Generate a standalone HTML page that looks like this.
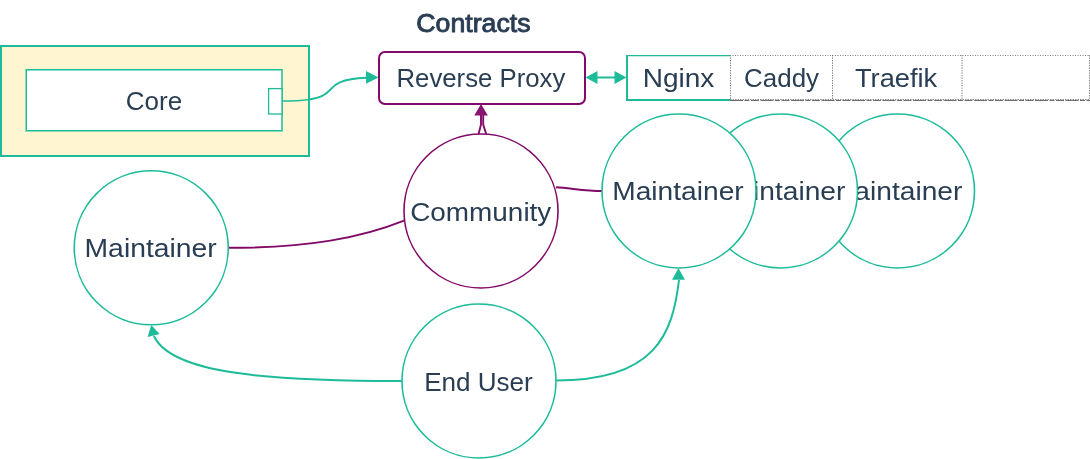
<!DOCTYPE html>
<html><head><meta charset="utf-8"><style>
html,body{margin:0;padding:0;background:#fff;width:1090px;height:459px;overflow:hidden}
svg{display:block;will-change:transform}
</style></head><body>
<svg width="1090" height="459" viewBox="0 0 1090 459">
<rect x="0" y="0" width="1090" height="459" fill="#fff"/>
<!-- Core container -->
<rect x="1" y="46" width="308" height="110" fill="#fff5d0" stroke="#1dbb9a" stroke-width="2"/>
<rect x="26.25" y="69.75" width="255.75" height="61" fill="#fff" stroke="#1dbb9a" stroke-width="1.5"/>
<rect x="268.6" y="88.6" width="13.4" height="25.4" fill="#fff" stroke="#1dbb9a" stroke-width="1.3"/>
<!-- edge core -> RP -->
<defs><clipPath id="cin"><rect x="270" y="60" width="39" height="60"/></clipPath><clipPath id="cout"><rect x="309" y="60" width="70" height="60"/></clipPath></defs>
<path d="M282,101 C353,101 309.6,80.6 366.5,77.8" fill="none" stroke="#1dbb9a" stroke-width="1.4" clip-path="url(#cin)"/>
<path d="M282,101 C353,101 309.6,80.6 366.5,77.8" fill="none" stroke="#1dbb9a" stroke-width="2" clip-path="url(#cout)"/>
<polygon points="366,71 378.5,77.4 366,83.8" fill="#1dbb9a"/>
<!-- Reverse proxy -->
<rect x="379" y="52" width="206" height="52" rx="6" ry="6" fill="#fff" stroke="#820a69" stroke-width="2"/>
<!-- RP <-> Nginx -->
<line x1="596" y1="77.5" x2="615" y2="77.5" stroke="#1dbb9a" stroke-width="2"/>
<polygon points="585.5,77.5 597.5,71 597.5,84" fill="#1dbb9a"/>
<polygon points="626.5,77.5 614.5,71 614.5,84" fill="#1dbb9a"/>
<!-- cells -->
<g fill="none">
<line x1="730" y1="55.5" x2="1090" y2="55.5" stroke="#808080" stroke-width="1" stroke-dasharray="1 1.5"/>
<line x1="730" y1="99.5" x2="1090" y2="99.5" stroke="#8c8c8c" stroke-width="1" stroke-dasharray="1.5 1"/>
<line x1="730" y1="100.5" x2="1090" y2="100.5" stroke="#6e6e6e" stroke-width="1" stroke-dasharray="13 1.5 5 1.5 8 1.5"/>
<line x1="730.5" y1="55" x2="730.5" y2="100" stroke="#7c7c7c" stroke-width="1" stroke-dasharray="1.3 1.2"/>
<line x1="832.5" y1="55" x2="832.5" y2="100" stroke="#7c7c7c" stroke-width="1" stroke-dasharray="1.3 1.2"/>
<line x1="962" y1="55" x2="962" y2="100" stroke="#7c7c7c" stroke-width="1" stroke-dasharray="1.3 1.2"/>
<line x1="1089.5" y1="55" x2="1089.5" y2="100" stroke="#7c7c7c" stroke-width="1" stroke-dasharray="1.3 1.2"/>
<path d="M627,55 V100 H730" stroke="#1dbb9a" stroke-width="2"/>
<line x1="626" y1="55.65" x2="730" y2="55.65" stroke="#1dbb9a" stroke-width="1.3"/>
</g>
<!-- Community -> RP -->
<path d="M478.6,134 L481,124.5 L481,114" fill="none" stroke="#820a69" stroke-width="1.9"/>
<path d="M486.2,134 L483.2,124.5 L483.2,114" fill="none" stroke="#820a69" stroke-width="1.9"/>
<polygon points="481,104 474.3,115.5 487.9,115.5" fill="#8a1570"/>
<!-- edges purple -->
<path d="M229,247.8 C309,247.8 361.3,237.7 404,220.6" fill="none" stroke="#820a69" stroke-width="2"/>
<path d="M556,187.3 C570,188 585,191 602,191" fill="none" stroke="#820a69" stroke-width="2"/>
<!-- edges teal from End User -->
<path d="M402,381 C272,381 171.2,374.3 154,336" fill="none" stroke="#1dbb9a" stroke-width="2"/>
<polygon points="151.3,325 147.6,337 159.6,334" fill="#1dbb9a"/>
<path d="M556,380.5 C656,380.5 672.6,333.6 679,280" fill="none" stroke="#1dbb9a" stroke-width="2"/>
<polygon points="678.5,268.3 672,279.8 685,279.8" fill="#1dbb9a"/>
<!-- circles -->
<circle cx="481" cy="211" r="77" fill="#fff" stroke="#820a69" stroke-width="1.6"/>
<circle cx="151.25" cy="247.8" r="77" fill="#fff" stroke="#1dbb9a" stroke-width="1.6"/>
<circle cx="897.5" cy="191" r="77" fill="#fff" stroke="#1dbb9a" stroke-width="1.6"/>
<g font-family="Liberation Sans" font-size="26" fill="#293d53"><text transform="translate(830.83,199.5) scale(1.084,1)" x="0" y="0" >Maintainer</text></g>
<circle cx="780.5" cy="191" r="77" fill="#fff" stroke="#1dbb9a" stroke-width="1.6"/>
<g font-family="Liberation Sans" font-size="26" fill="#293d53"><text transform="translate(713.83,199.5) scale(1.084,1)" x="0" y="0" >Maintainer</text></g>
<circle cx="679" cy="191" r="77" fill="#fff" stroke="#1dbb9a" stroke-width="1.6"/>
<circle cx="479" cy="381" r="77" fill="#fff" stroke="#1dbb9a" stroke-width="1.6"/>
<g font-family="Liberation Sans" font-size="26" fill="#293d53">
<text transform="translate(416.27,31.9) scale(1.0282,1)" x="0" y="0" stroke="#293d53" stroke-width="0.9">Contracts</text>
<text transform="translate(396.52,87.2) scale(0.9905,1)" x="0" y="0" >Reverse Proxy</text>
<text transform="translate(125.8,109.6) scale(1.0,1)" x="0" y="0" >Core</text>
<text transform="translate(642.64,86.9) scale(1.0797,1)" x="0" y="0" >Nginx</text>
<text transform="translate(744.1,86.9) scale(0.9973,1)" x="0" y="0" >Caddy</text>
<text transform="translate(854.95,86.9) scale(1.0481,1)" x="0" y="0" >Traefik</text>
<text transform="translate(84.52,256.6) scale(1.0899,1)" x="0" y="0" >Maintainer</text>
<text transform="translate(612.23,199.5) scale(1.0832,1)" x="0" y="0" >Maintainer</text>
<text transform="translate(410.13,220.9) scale(1.0746,1)" x="0" y="0" >Community</text>
<text transform="translate(424.19,390.9) scale(1.0028,1)" x="0" y="0" >End User</text>
</g>
</svg>
</body></html>
